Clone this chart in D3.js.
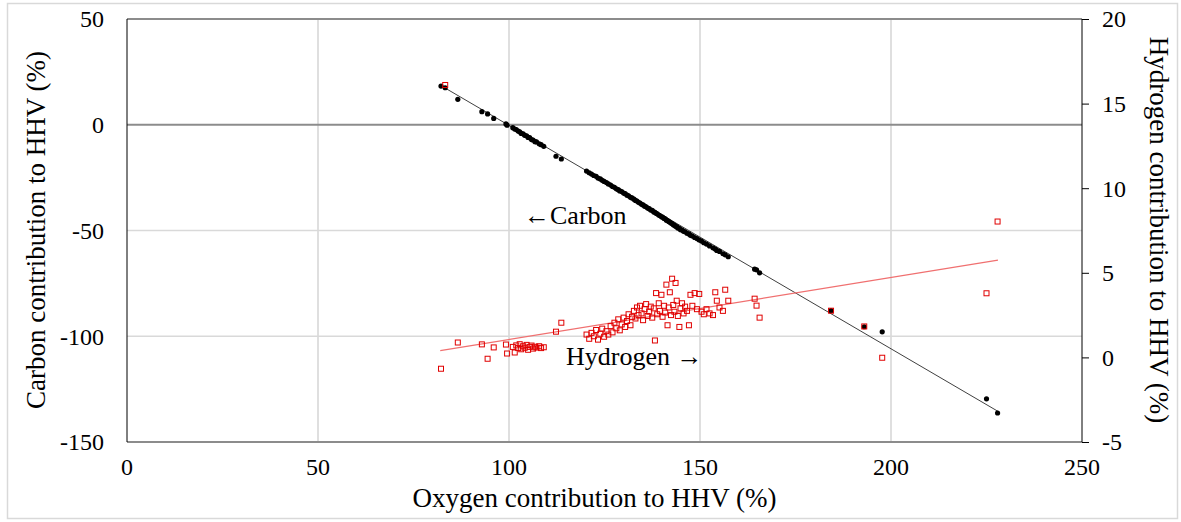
<!DOCTYPE html>
<html lang="en">
<head>
    <meta charset="UTF-8">
    <title>Carbon and hydrogen contribution to HHV</title>
    <script src="https://d3js.org/d3.v7.min.js"></script>
    <style>
        body {
            margin: 0;
            background: #ffffff;
        }
    </style>
</head>
<body>
    <script>
        // Samples: oxygen (x), carbon (left axis), hydrogen (right axis)
        const oxygen = [
            82.2, 83.3, 86.6, 92.9, 94.4, 96.0, 99.2, 99.5,
            101.0, 101.5, 101.9, 102.4, 102.8, 103.2, 103.7, 104.1, 104.6, 105.0,
            105.4, 105.9, 106.3, 106.8, 107.2, 107.9, 108.4, 109.1,
            112.3, 113.7,
            120.3, 121.0, 121.6, 122.2, 122.8, 123.3, 123.9, 124.4, 124.9, 125.5, 126.0, 126.6, 127.1,
            127.6, 128.1, 128.6, 129.0, 129.5, 130.0, 130.4, 130.9, 131.3, 131.8, 132.2,
            132.7, 133.1, 133.5, 133.9, 134.3, 134.7, 135.1, 135.5, 135.9, 136.3, 136.7, 137.1,
            137.5, 137.9, 138.2, 138.5, 138.8, 139.2, 139.5, 139.9, 140.2, 140.6, 140.9, 141.2,
            141.5, 141.8, 142.1, 142.4, 142.7, 143.0, 143.3, 143.6, 143.9, 144.2, 144.6, 144.9,
            145.3, 145.7, 146.1, 146.6, 147.1, 147.5, 148.0, 148.6, 149.2, 149.8,
            150.4, 151.0, 151.7, 152.5, 153.4, 154.0, 154.4, 155.1, 156.0, 156.6, 157.4,
            164.3, 164.8, 165.6, 184.3, 193.0, 197.7, 225.0, 227.9
        ];
        const carbon = [
            18.3, 17.5, 12.0, 6.2, 5.1, 3.0, 0.4, -0.2,
            -1.4, -2.0, -2.3, -3.0, -3.3, -4.1, -4.3, -5.0, -5.2, -6.0,
            -6.1, -7.0, -7.2, -8.0, -8.1, -9.0, -9.4, -10.2,
            -14.9, -16.2,
            -21.9, -22.7, -23.3, -24.0, -24.4, -25.2, -25.6, -26.3, -26.8, -27.3, -28.0, -28.5, -29.2,
            -29.6, -30.3, -30.7, -31.3, -31.6, -32.3, -32.6, -33.3, -33.6, -34.3, -34.6,
            -35.2, -35.8, -36.1, -36.7, -37.0, -37.6, -37.9, -38.5, -38.8, -39.4, -39.7, -40.3,
            -40.5, -41.2, -41.4, -41.9, -42.1, -42.7, -42.9, -43.5, -43.7, -44.3, -44.5, -45.1,
            -45.3, -45.8, -46.0, -46.5, -46.7, -47.3, -47.5, -48.0, -48.2, -48.8, -49.0, -49.6,
            -49.8, -50.4, -50.6, -51.3, -51.6, -52.3, -52.6, -53.3, -53.8, -54.5,
            -55.0, -55.8, -56.4, -57.3, -58.2, -58.8, -59.4, -59.9, -61.0, -61.5, -62.4,
            -68.3, -68.6, -70.0, -87.9, -95.5, -97.9, -129.6, -136.3
        ];
        const hydrogen = [
            -0.67, 16.1, 0.88, 0.77, -0.08, 0.59, 0.76, 0.23,
            0.62, 0.29, 0.71, 0.55, 0.78, 0.48, 0.66, 0.57, 0.74, 0.45,
            0.62, 0.70, 0.52, 0.63, 0.58, 0.66, 0.55, 0.60,
            1.52, 2.05,
            1.35, 1.10, 1.45, 1.25, 1.62, 1.05, 1.40, 1.70, 1.22, 1.55, 1.35, 1.85, 1.48,
            2.05, 1.72, 2.25, 1.60, 1.95, 2.35, 1.80, 2.15, 2.55, 1.90, 2.40,
            2.75, 2.30, 2.95, 2.50, 3.05, 2.60, 2.20, 2.85, 3.15, 2.45, 2.70, 3.00,
            2.35, 2.90, 1.00, 3.80, 2.55, 3.20, 2.75, 3.70, 2.40, 3.05, 2.65, 4.30,
            1.90, 2.95, 3.85, 2.50, 4.65, 3.10, 2.70, 4.40, 3.35, 2.45, 1.80, 2.90,
            3.20, 2.60, 3.00, 2.75, 1.90, 3.70, 3.05, 3.80, 2.85, 3.75,
            2.70, 2.55, 2.85, 2.60, 2.50, 3.85, 3.35, 2.95, 2.75, 4.00, 3.35,
            3.47, 3.06, 2.35, 2.76, 1.83, -0.02, 3.79, 8.03
        ];

        // Trend line end points (oxygen, value)
        const carbonTrendO = [82, 228];
        const carbonTrendC = [18.7, -135.5];
        const hydrogenTrendO = [82, 228];
        const hydrogenTrendH = [0.4, 5.75];

        // Axis ticks
        const xTicks = [0, 50, 100, 150, 200, 250];
        const leftTicks = [50, 0, -50, -100, -150];
        const rightTicks = [20, 15, 10, 5, 0, -5];

        const width = 1181, height = 522;
        const plotL = 127, plotR = 1082, plotT = 19, plotB = 442;
        const serif = "'Liberation Serif', 'Times New Roman', serif";

        const svg = d3.select("body")
            .append("svg")
            .attr("width", width)
            .attr("height", height)
            .attr("font-family", serif);

        // outer frame
        svg.append("rect")
            .attr("x", 7.5).attr("y", 3.5)
            .attr("width", 1170).attr("height", 515)
            .attr("fill", "#fff")
            .attr("stroke", "#d9d9d9")
            .attr("stroke-width", 1.5);

        const x = d3.scaleLinear().domain([0, 250]).range([plotL, plotR]);
        const yC = d3.scaleLinear().domain([-150, 50]).range([plotB, plotT]);
        const yH = d3.scaleLinear().domain([-5, 20]).range([plotB, plotT]);

        // vertical grid
        svg.selectAll(".vgrid")
            .data(xTicks.filter(d => d > 0 && d < 250))
            .enter().append("line")
            .attr("x1", d => x(d)).attr("x2", d => x(d))
            .attr("y1", plotT).attr("y2", plotB)
            .attr("stroke", "#d4d4d4")
            .attr("stroke-width", 1.5);

        // horizontal grid (top, zero and bottom lines darker)
        svg.selectAll(".hgrid")
            .data(leftTicks)
            .enter().append("line")
            .attr("x1", plotL).attr("x2", plotR)
            .attr("y1", d => yC(d)).attr("y2", d => yC(d))
            .attr("stroke", d => (d === 0 || d === 50 || d === -150) ? "#8c8c8c" : "#d9d9d9")
            .attr("stroke-width", d => (d === 0 || d === 50 || d === -150) ? 2 : 1.5);

        // left axis line
        svg.append("line")
            .attr("x1", plotL).attr("x2", plotL)
            .attr("y1", plotT).attr("y2", plotB)
            .attr("stroke", "#000").attr("stroke-width", 1);

        // right axis with outward ticks
        const rAxis = svg.append("g")
            .attr("transform", `translate(${plotR},0)`)
            .call(d3.axisRight(yH).tickValues(rightTicks).tickSize(7).tickFormat(""));
        rAxis.select(".domain").attr("stroke", "#000").attr("d", `M0,${plotT}V${plotB}`);
        rAxis.selectAll(".tick line").attr("stroke", "#000");

        // tick labels
        svg.selectAll(".xlab")
            .data(xTicks)
            .enter().append("text")
            .attr("x", d => x(d))
            .attr("y", 475)
            .attr("text-anchor", "middle")
            .attr("font-size", 24)
            .text(d => d);

        svg.selectAll(".llab")
            .data(leftTicks)
            .enter().append("text")
            .attr("x", 104)
            .attr("y", d => yC(d))
            .attr("dy", "0.35em")
            .attr("text-anchor", "end")
            .attr("font-size", 24)
            .text(d => d);

        svg.selectAll(".rlab")
            .data(rightTicks)
            .enter().append("text")
            .attr("x", 1102)
            .attr("y", d => yH(d))
            .attr("dy", "0.35em")
            .attr("text-anchor", "start")
            .attr("font-size", 24)
            .text(d => d);

        // axis titles
        svg.append("text")
            .attr("x", (plotL + plotR) / 2 - 10)
            .attr("y", 507)
            .attr("text-anchor", "middle")
            .attr("font-size", 27)
            .text("Oxygen contribution to HHV (%)");

        svg.append("text")
            .attr("transform", "translate(45,230) rotate(-90)")
            .attr("text-anchor", "middle")
            .attr("font-size", 27)
            .text("Carbon contribution to HHV (%)");

        svg.append("text")
            .attr("transform", "translate(1150,230) rotate(90)")
            .attr("text-anchor", "middle")
            .attr("font-size", 27)
            .text("Hydrogen contribution to HHV (%)");

        // trend lines
        svg.append("line")
            .attr("x1", x(carbonTrendO[0])).attr("y1", yC(carbonTrendC[0]))
            .attr("x2", x(carbonTrendO[1])).attr("y2", yC(carbonTrendC[1]))
            .attr("stroke", "#404040").attr("stroke-width", 1);

        svg.append("line")
            .attr("x1", x(hydrogenTrendO[0])).attr("y1", yH(hydrogenTrendH[0]))
            .attr("x2", x(hydrogenTrendO[1])).attr("y2", yH(hydrogenTrendH[1]))
            .attr("stroke", "#f07070").attr("stroke-width", 1.3);

        // carbon points
        svg.selectAll(".cpt")
            .data(d3.range(oxygen.length))
            .enter().append("circle")
            .attr("cx", i => x(oxygen[i]))
            .attr("cy", i => yC(carbon[i]))
            .attr("r", 2.6)
            .attr("fill", "#000");

        // hydrogen points
        svg.selectAll(".hpt")
            .data(d3.range(oxygen.length))
            .enter().append("rect")
            .attr("x", i => x(oxygen[i]) - 2.5)
            .attr("y", i => yH(hydrogen[i]) - 2.5)
            .attr("width", 5).attr("height", 5)
            .attr("fill", "none")
            .attr("stroke", "#e00000")
            .attr("stroke-width", 1);

        // annotations
        svg.append("text")
            .attr("x", 524).attr("y", 224)
            .attr("font-size", 26)
            .text("\u2190Carbon");

        svg.append("text")
            .attr("x", 566).attr("y", 365)
            .attr("font-size", 26)
            .text("Hydrogen \u2192");
    </script>
</body>
</html>
